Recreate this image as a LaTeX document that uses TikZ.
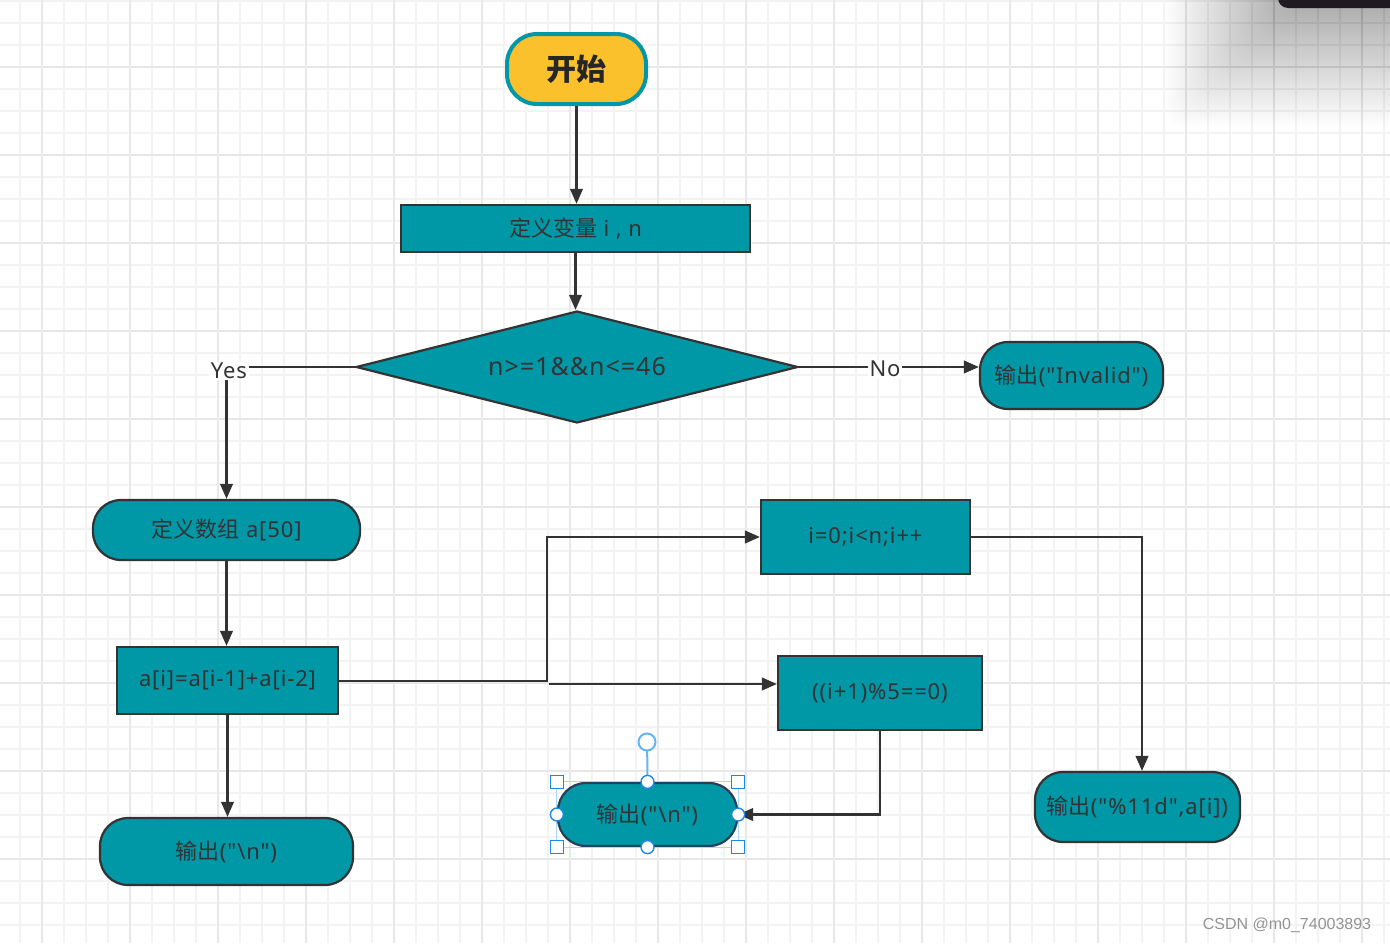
\documentclass[tikz,border=0pt]{standalone}
\usepackage{fontspec}
\newfontfamily\lat{Noto Sans}[LetterSpace=4]
\newfontfamily\cjk{Noto Sans CJK SC}
\newfontfamily\wmfont{Liberation Sans}
\usetikzlibrary{arrows.meta,shapes.geometric}
\definecolor{tealf}{HTML}{0097A7}
\definecolor{ink}{HTML}{333333}
\definecolor{yel}{HTML}{FBC12D}
\definecolor{selb}{HTML}{1E88E5}
\definecolor{selc}{HTML}{64B5F6}
\definecolor{gminor}{HTML}{F3F3F3}
\definecolor{gmajor}{HTML}{E8E8E8}
\definecolor{navyb}{HTML}{27405A}
\definecolor{darkp}{HTML}{1D1A22}
\begin{document}
\begin{tikzpicture}[x=1pt,y=-1pt,
  proc/.style={draw=ink, line width=2.2pt, fill=tealf, text=ink,
    font=\lat\fontsize{22}{26}\selectfont, inner sep=0pt, anchor=center},
  term/.style={proc, rounded corners=28pt},
  conn/.style={draw=ink, line width=2.3pt, -{Triangle[length=15pt,width=12.5pt]}},
  lbl/.style={fill=white, text=ink, font=\lat\fontsize{22}{26}\selectfont, inner sep=1.5pt},
  hsq/.style={draw=selb, fill=white, line width=1.4pt},
  hci/.style={draw=selb, fill=white, line width=1.4pt}]
\useasboundingbox (0,0) rectangle (1390,943);
\fill[white] (0,0) rectangle (1390,943);
% grid
\foreach \i in {-2,...,61} {\draw[gminor, line width=1.6pt] ({42+22*\i},0) -- ({42+22*\i},943);}
\foreach \i in {-3,...,39} {\draw[gminor, line width=1.6pt] (0,{67+22*\i}) -- (1390,{67+22*\i});}
\foreach \i in {0,...,15} {\draw[gmajor, line width=1.8pt] ({42+88*\i},0) -- ({42+88*\i},943);}
\foreach \i in {0,...,9} {\draw[gmajor, line width=1.8pt] (0,{67+88*\i}) -- (1390,{67+88*\i});}
% top-right shadow and dark panel
\foreach \k in {1,...,40} {\fill[black, opacity=0.0075, rounded corners=20pt] ({1285-3*\k},-60) rectangle (1440,{6+3*\k});}
\fill[darkp, rounded corners=10pt] (1278,-30) rectangle (1420,8);
% nodes
\node[term, fill=yel, draw=tealf, line width=4pt, rounded corners=30pt,
  minimum width=139pt, minimum height=70pt,
  font=\cjk\bfseries\fontsize{30}{34}\selectfont, text=black!85] (start) at (576.5,69) {开始};
\node[proc, minimum width=349pt, minimum height=47pt] (vars) at (575.5,228.5) {{\cjk 定义变量} i , n};
\node[proc, diamond, shape aspect=4, minimum width=442pt, minimum height=112pt,
  font=\lat\fontsize{25}{29}\selectfont] (dia) at (577,367) {n>=1\&\&n<=46};
\node[term, minimum width=183pt, minimum height=67pt] (inv) at (1071.5,375.5) {{\cjk 输出}("Invalid")};
\node[term, minimum width=267pt, minimum height=60pt] (arr) at (226.5,530) {{\cjk 定义数组} a[50]};
\node[proc, minimum width=221pt, minimum height=67pt] (fib) at (227.5,680.5) {a[i]=a[i-1]+a[i-2]};
\node[term, minimum width=253pt, minimum height=67pt] (out1) at (226.5,851.5) {{\cjk 输出}("\textbackslash n")};
\node[proc, minimum width=209pt, minimum height=74pt] (loop) at (865.5,537) {i=0;i<n;i++};
\node[proc, minimum width=204pt, minimum height=74pt] (mod) at (880,693) {((i+1)\%5==0)};
\node[term, draw=navyb, minimum width=179pt, minimum height=63pt] (out2) at (647.5,814.5) {{\cjk 输出}("\textbackslash n")};
\node[term, minimum width=205pt, minimum height=70pt] (out3) at (1137.5,807) {{\cjk 输出}("\%11d",a[i])};
% connectors
\draw[conn] (start.south) -- (start.south |- vars.north);
\draw[conn] (vars.south) -- (vars.south |- dia.north);
\draw[conn] (dia.west) -| (arr.north);
\node[lbl] (yes) at (229,371) {Yes};
\draw[conn] (dia.east) -- (dia.east -| inv.west);
\node[lbl] (no) at (885,369) {No};
\draw[conn] (arr.south) -- (arr.south |- fib.north);
\draw[conn] (fib.south) -- (fib.south |- out1.north);
\coordinate (bend) at (547,681);
\draw[conn] (fib.east |- bend) -- (bend) |- (loop.west);
\coordinate (split) at (549,684);
\draw[conn] (split) -- (split -| mod.west);
\coordinate (rdrop) at (1142,537);
\draw[conn] (loop.east) -- (rdrop) -- (rdrop |- out3.north);
\draw[conn] (mod.south) |- (out2.east);
% selection handles on out2
\draw[selb!35, line width=1pt] (out2.south west) rectangle (out2.north east);
\coordinate (rot) at (647,742);
\draw[selc, line width=2pt] (out2.north) -- ([yshift=9pt]rot);
\draw[selc, fill=white, line width=2pt] (rot) circle (8.5pt);
\foreach \a in {north west, north east, south west, south east}
  {\draw[hsq] ([xshift=-6.5pt,yshift=-6.5pt]out2.\a) rectangle ++(13pt,13pt);}
\foreach \a in {north, south, east, west}
  {\draw[hci] (out2.\a) circle (6.5pt);}
% watermark
\node[font=\wmfont\fontsize{16}{18}\selectfont, text=gray!85] (wm) at (1287,925) {CSDN @m0\_74003893};
\end{tikzpicture}
\end{document}
